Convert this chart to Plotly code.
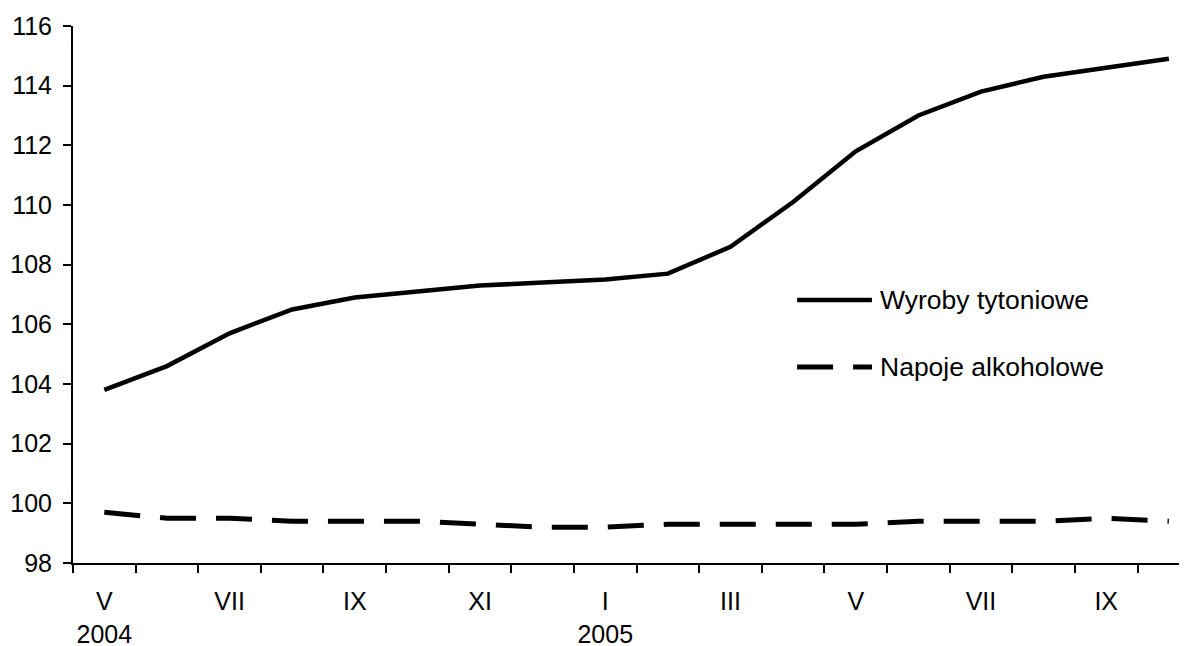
import plotly.graph_objects as go

months = ["V", "VI", "VII", "VIII", "IX", "X", "XI", "XII", "I", "II", "III", "IV",
          "V", "VI", "VII", "VIII", "IX", "X"]
years = ["2004"] * 8 + ["2005"] * 10
tytoniowe = [103.8, 104.6, 105.7, 106.5, 106.9, 107.1, 107.3, 107.4, 107.5, 107.7,
             108.6, 110.1, 111.8, 113.0, 113.8, 114.3, 114.6, 114.9]
alkoholowe = [99.7, 99.5, 99.5, 99.4, 99.4, 99.4, 99.3, 99.2, 99.2, 99.3,
              99.3, 99.3, 99.3, 99.4, 99.4, 99.4, 99.5, 99.4]
series_names = ["Wyroby tytoniowe", "Napoje alkoholowe"]

x = list(range(len(months)))
tickvals = x[::2]
ticktext = []
for i in tickvals:
    lab = months[i]
    if i == 0 or (months[i] == "I"):
        lab += "<br>" + years[i]
    ticktext.append(lab)

FONT = "Liberation Sans, Arial, sans-serif"
FS = 26.5
TFS = 25
DASH = "36px,20px"

fig = go.Figure()
fig.add_trace(go.Scatter(x=x, y=tytoniowe, mode="lines", name=series_names[0],
                         line=dict(color="black", width=4.5), showlegend=False))
fig.add_trace(go.Scatter(x=x, y=alkoholowe, mode="lines", name=series_names[1],
                         line=dict(color="black", width=5, dash=DASH), showlegend=False))

# legend (drawn manually to match long sample lines)
leg = [(series_names[0], "solid", 4.5, 0.4898), (series_names[1], DASH, 5, 0.365)]
for name, dash, w, yp in leg:
    fig.add_shape(type="line", xref="paper", yref="paper",
                  x0=0.650, x1=0.7172, y0=yp, y1=yp,
                  line=dict(color="black", width=w, dash=dash))
    fig.add_annotation(text=name, xref="paper", yref="paper", x=0.7225, y=yp,
                       xanchor="left", yanchor="middle", showarrow=False,
                       font=dict(family=FONT, size=FS, color="black"))

fig.update_layout(
    width=1187, height=646,
    margin=dict(l=65, r=8, t=18, b=91),
    paper_bgcolor="white", plot_bgcolor="white",
    font=dict(family=FONT, size=FS, color="black"),
    showlegend=False,
)
fig.update_xaxes(
    range=[-0.5, 17.29], tickvals=tickvals, ticktext=ticktext,
    tickfont=dict(size=TFS),
    ticks="", showgrid=False, zeroline=False, automargin=False,
    showline=True, linecolor="black", linewidth=2,
    ticklabelstandoff=15,
    minor=dict(tickvals=[i - 0.5 for i in range(len(months) + 1)],
               ticks="outside", ticklen=8, tickwidth=2, tickcolor="black",
               showgrid=False),
)
fig.update_yaxes(
    range=[98, 116], dtick=2, tick0=98, automargin=False,
    tickfont=dict(size=TFS),
    ticks="outside", ticklen=8, tickwidth=2, tickcolor="black",
    showgrid=False, zeroline=False,
    showline=True, linecolor="black", linewidth=2,
    ticklabelstandoff=6,
)

fig.write_html("out.html")
